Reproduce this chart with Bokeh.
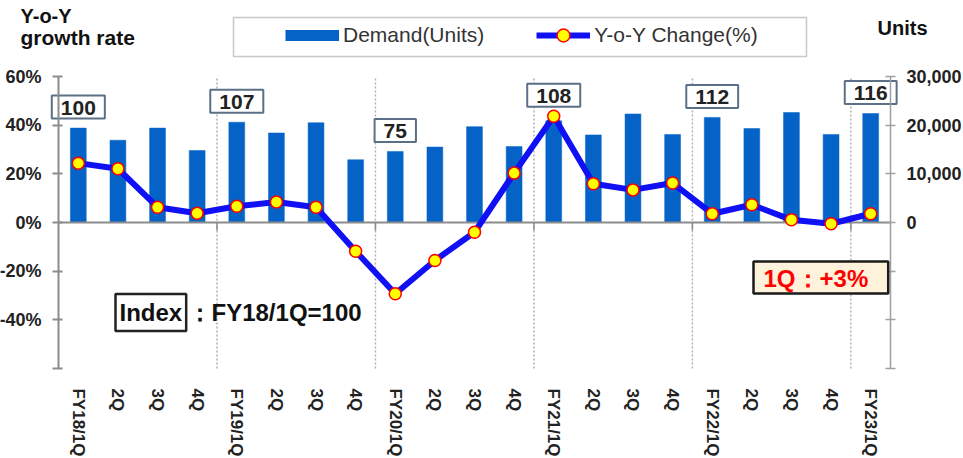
import math
from bokeh.plotting import figure
from bokeh.models import (Range1d, LinearAxis, FixedTicker, Label, BoxAnnotation,
                          Legend, LegendItem, ColumnDataSource)
from bokeh.core.properties import value
from bokeh.embed import file_html
from bokeh.resources import INLINE

# ---------------- data ----------------
quarters = ["FY18/1Q", "2Q", "3Q", "4Q",
            "FY19/1Q", "2Q", "3Q", "4Q",
            "FY20/1Q", "2Q", "3Q", "4Q",
            "FY21/1Q", "2Q", "3Q", "4Q",
            "FY22/1Q", "2Q", "3Q", "4Q",
            "FY23/1Q"]
demand = [19400, 16900, 19400, 14800,
          20600, 18400, 20500, 12900,
          14600, 15500, 19700, 15600,
          20900, 18000, 22300, 18100,
          21600, 19300, 22600, 18100,
          22400]
yoy = [24.4, 22.1, 6.3, 3.8,
       6.7, 8.4, 6.3, -11.8,
       -29.3, -15.6, -4.0, 20.3,
       43.7, 15.9, 13.4, 16.2,
       3.6, 7.3, 1.1, -0.5,
       3.6]
index_labels = ["100", "107", "75", "108", "112", "116"]

left_ticks = [-60, -40, -20, 0, 20, 40, 60]
left_tick_labels = ["", "-40%", "-20%", "0%", "20%", "40%", "60%"]
right_ticks = [-30000, -20000, -10000, 0, 10000, 20000, 30000]
right_tick_labels = ["", "", "", "0", "10,000", "20,000", "30,000"]

FONT = "Liberation Sans"
TXT = "#222222"
AXIS = "#8c8c8c"
BAR = "#0563C8"

# ---------------- layout geometry (pixels) ----------------
W, H = 963, 458                     # canvas
PL, PR, PT, PB = 58, 890, 76, 368   # plotting area inside the canvas

pct_lo, pct_hi = left_ticks[0], left_ticks[-1]
u_lo, u_hi = right_ticks[0], right_ticks[-1]
n = len(quarters)
x_lo, x_hi = -0.5, n - 0.5

px_x = (PR - PL) / (x_hi - x_lo)
px_y = (PB - PT) / (pct_hi - pct_lo)
xr = Range1d(x_lo - PL / px_x, x_hi + (W - PR) / px_x)
y_top = pct_hi + PT / px_y
y_bot = pct_lo - (H - PB) / px_y
yr = Range1d(y_bot, y_top)
scale = u_hi / pct_hi
ur = Range1d(y_bot * scale, y_top * scale)

xs = list(range(n))
fy_pos = [i for i, q in enumerate(quarters) if q.startswith("FY")]
boundaries = [i - 0.5 for i in fy_pos if i > 0]

p = figure(width=W, height=H, output_backend="svg", toolbar_location=None,
           x_range=xr, y_range=yr, min_border=0)
p.extra_y_ranges = {"units": ur}
p.outline_line_color = None
p.xgrid.visible = False
p.ygrid.visible = False
p.background_fill_color = "white"
p.border_fill_color = "white"

# x axis (labels at the bottom of the plotting area)
xa = p.xaxis[0]
xa.fixed_location = pct_lo
xa.ticker = FixedTicker(ticks=xs)
xa.major_label_overrides = {i: q for i, q in enumerate(quarters)}
xa.major_label_orientation = -math.pi / 2
xa.axis_line_color = None
xa.major_tick_line_color = None
xa.minor_tick_line_color = None
xa.major_label_standoff = 14
xa.major_label_text_font = FONT
xa.major_label_text_font_style = "bold"
xa.major_label_text_font_size = "17px"
xa.major_label_text_color = TXT

# left axis (%)
ya = p.yaxis[0]
ya.fixed_location = x_lo
ya.bounds = (pct_lo, pct_hi)
ya.ticker = FixedTicker(ticks=left_ticks)
ya.major_label_overrides = dict(zip(left_ticks, left_tick_labels))
ya.axis_line_color = AXIS
ya.axis_line_width = 2
ya.major_tick_line_color = AXIS
ya.major_tick_line_width = 2
ya.major_tick_in = 4
ya.major_tick_out = 6
ya.minor_tick_line_color = None
ya.major_label_standoff = 11
ya.major_label_text_font = FONT
ya.major_label_text_font_style = "bold"
ya.major_label_text_font_size = "18px"
ya.major_label_text_color = TXT

# right axis (units)
ra = LinearAxis(y_range_name="units", ticker=FixedTicker(ticks=right_ticks),
                fixed_location=x_hi, bounds=(u_lo, u_hi))
ra.major_label_overrides = dict(zip(right_ticks, right_tick_labels))
ra.axis_line_color = "#a0a0a0"
ra.axis_line_width = 1.5
ra.major_tick_line_color = "#a0a0a0"
ra.major_tick_line_width = 1.5
ra.major_tick_in = 5
ra.major_tick_out = 5
ra.minor_tick_line_color = None
ra.major_label_standoff = 11
ra.major_label_text_font = FONT
ra.major_label_text_font_style = "bold"
ra.major_label_text_font_size = "18px"
ra.major_label_text_color = TXT
p.add_layout(ra, "right")

# year boundaries (dotted)
nb = len(boundaries)
p.segment(x0=boundaries, y0=[pct_lo] * nb, x1=boundaries, y1=[pct_hi] * nb,
          line_color="#b0b0b0", line_width=1.5, line_dash="2 2")

# bars
bars = p.vbar(x=xs, top=demand, width=0.4, bottom=0, y_range_name="units",
              fill_color=BAR, line_color=BAR, line_width=0.5)

# zero line and small ticks at boundaries
p.segment(x0=[x_lo], y0=[0], x1=[x_hi], y1=[0], line_color=AXIS, line_width=2)
p.segment(x0=boundaries, y0=[0] * nb, x1=boundaries, y1=[-3.3] * nb,
          line_color=AXIS, line_width=1.5)

# yoy line
line = p.line(xs, yoy, line_color="#1010F5", line_width=6)
pts = p.scatter(xs, yoy, size=12, fill_color="#FFFF00", line_color="#FF0000",
                line_width=1.5)

# index boxes
idx_y = [max(demand[i], yoy[i] * scale) for i in fy_pos]
src = ColumnDataSource(dict(x=fy_pos, y=idx_y, t=index_labels))
p.text(x="x", y="y", text="t", source=src, y_range_name="units",
       text_align="center", text_baseline="middle", y_offset=-21,
       text_font=value(FONT), text_font_style="bold", text_font_size="21px",
       text_color=TXT, background_fill_color="white",
       border_line_color="#5B7087", border_line_width=2,
       padding=dict(left=9, right=9, top=5, bottom=4))

# legend key for the bars: a flat band (single-vertex line draws nothing in the plot)
bar_key = p.line(x=xs[:1], y=[0], line_color=BAR, line_width=11)

# legend frame + legend
p.add_layout(BoxAnnotation(left=233, right=806, bottom=402, top=441,
                           left_units="screen", right_units="screen",
                           bottom_units="screen", top_units="screen",
                           fill_color="white", fill_alpha=1,
                           line_color="#444444", line_width=1.5))
legend = Legend(items=[LegendItem(label="Demand(Units)", renderers=[bar_key]),
                       LegendItem(label="Y-o-Y Change(%)", renderers=[line, pts])],
                orientation="horizontal", location=(285, 407),
                label_text_font=FONT, label_text_font_size="21px",
                label_text_color="#333333", glyph_width=54, glyph_height=32,
                label_height=32, label_standoff=4, spacing=52, padding=0, margin=0,
                border_line_color=None, background_fill_alpha=0)
p.add_layout(legend, "center")

# axis titles
for txt, sx, sy, fs in [("Y-o-Y", 20, 443, "20px"), ("growth rate", 20, 421, "21px")]:
    p.add_layout(Label(x=sx, y=sy, x_units="screen", y_units="screen", text=txt,
                       text_font=FONT, text_font_style="bold", text_font_size=fs,
                       text_color="#111111", text_baseline="alphabetic"))
p.add_layout(Label(x=877, y=431, x_units="screen", y_units="screen", text="Units",
                   text_font=FONT, text_font_style="bold", text_font_size="20px",
                   text_color="#111111", text_baseline="alphabetic"))

# index note
p.add_layout(Label(x=115, y=146, x_units="screen", y_units="screen", text="Index",
                   text_font=FONT, text_font_style="bold", text_font_size="24px",
                   text_color="#111111", text_baseline="alphabetic",
                   background_fill_color="white", border_line_color="#222222",
                   border_line_width=2.5, padding=dict(left=4, right=4, top=5, bottom=5)))
p.add_layout(Label(x=187, y=146, x_units="screen", y_units="screen", text="：FY18/1Q=100",
                   text_font=FONT, text_font_style="bold", text_font_size="24px",
                   text_color="#111111", text_baseline="alphabetic"))

# 1Q callout
p.add_layout(Label(x=753, y=181, x_units="screen", y_units="screen", text="1Q：+3%",
                   text_font=FONT, text_font_style="bold", text_font_size="24px",
                   text_color="#FF0000", text_baseline="alphabetic",
                   background_fill_color="#FFF2DA", border_line_color="#1a1a1a",
                   border_line_width=2.5, padding=dict(left=10, right=20, top=3, bottom=2)))

open("out.html", "w").write(file_html(p, INLINE))
